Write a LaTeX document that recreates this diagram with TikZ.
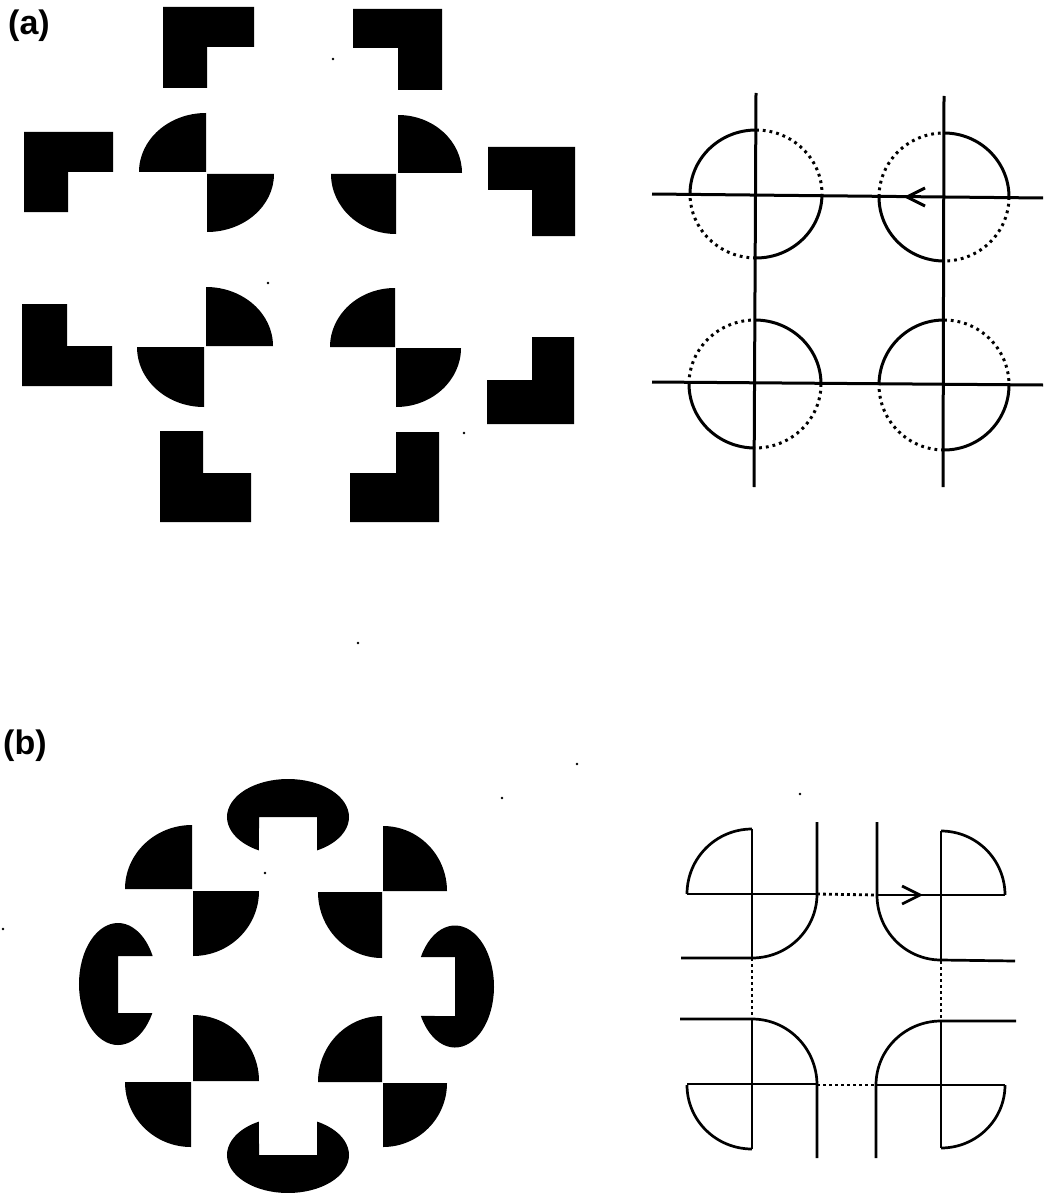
\documentclass[tikz,border=0pt]{standalone}
\usepackage{fontspec}
\setmainfont{Liberation Sans}
\begin{document}
\begin{tikzpicture}[x=1pt,y=-1pt,
  blk/.style={fill=black},
  solidln/.style={line width=3pt},
  dotln/.style={line width=3pt,dash pattern=on 2.8pt off 4pt},
  bln/.style={line width=2.7pt},
  bdot/.style={line width=2.8pt,dash pattern=on 2.8pt off 3.2pt},
  lbl/.style={anchor=base west,inner sep=0pt,font=\bfseries\fontsize{34}{40}\selectfont},
  speck/.style={fill=black}]
\useasboundingbox (0,0) rectangle (1044,1193);

% labels
\node[lbl] (la) at (8,35) {(a)};
\node[lbl] (lb) at (3,754) {(b)};

% ---------- (a) left: L-shapes ----------
\fill[blk] (163,7) -- (254,7) -- (254,47) -- (207,47) -- (207,88) -- (163,88) -- cycle;
\fill[blk] (353,9) -- (442,9) -- (442,90) -- (398,90) -- (398,48) -- (353,48) -- cycle;
\fill[blk] (24,132) -- (113,132) -- (113,172) -- (68,172) -- (68,212) -- (24,212) -- cycle;
\fill[blk] (488,147) -- (575,147) -- (575,236) -- (532,236) -- (532,190) -- (488,190) -- cycle;
\fill[blk] (22,304) -- (67,304) -- (67,346) -- (112,346) -- (112,386) -- (22,386) -- cycle;
\fill[blk] (532,337) -- (574,337) -- (574,424) -- (487,424) -- (487,380) -- (532,380) -- cycle;
\fill[blk] (160,431) -- (203,431) -- (203,473) -- (251,473) -- (251,522) -- (160,522) -- cycle;
\fill[blk] (396,432) -- (439,432) -- (439,522) -- (350,522) -- (350,473) -- (396,473) -- cycle;

% ---------- (a) left: quarter disks ----------
% quadrant angles (y flipped): UL 180-270, UR 270-360, LR 0-90, LL 90-180
\fill[blk] (206,172) -- ++(-67,0) arc[start angle=180,end angle=270,x radius=67,y radius=59] -- cycle;
\fill[blk] (207,174) -- ++(67,0) arc[start angle=0,end angle=90,x radius=67,y radius=58] -- cycle;
\fill[blk] (398,173) -- ++(0,-58) arc[start angle=270,end angle=360,x radius=64,y radius=58] -- cycle;
\fill[blk] (396,174) -- ++(0,60) arc[start angle=90,end angle=180,x radius=65,y radius=60] -- cycle;
\fill[blk] (206,346) -- ++(0,-59) arc[start angle=270,end angle=360,x radius=67,y radius=59] -- cycle;
\fill[blk] (204,347) -- ++(0,60) arc[start angle=90,end angle=180,x radius=67,y radius=60] -- cycle;
\fill[blk] (395,347) -- ++(-65,0) arc[start angle=180,end angle=270,x radius=65,y radius=59] -- cycle;
\fill[blk] (396,348) -- ++(65,0) arc[start angle=0,end angle=90,x radius=65,y radius=59] -- cycle;

% ---------- (a) right ----------
\coordinate (v1t) at (756,93);  \coordinate (v1b) at (754,487);
\coordinate (v2t) at (944,96);  \coordinate (v2b) at (943,487);
\coordinate (h1l) at (652,194); \coordinate (h1r) at (1043,198);
\coordinate (h2l) at (652,382); \coordinate (h2r) at (1043,385);
\draw[solidln] (v1t) -- (v1b);
\draw[solidln] (v2t) -- (v2b);
\draw[solidln] (h1l) -- (h1r);
\draw[solidln] (h2l) -- (h2r);
% circle 1
\draw[solidln] (756,194) ++(-66,0) arc[start angle=180,end angle=270,x radius=66,y radius=64];
\draw[solidln] (756,194) ++(66,0) arc[start angle=0,end angle=90,x radius=66,y radius=64];
\draw[dotln] (756,194) ++(0,-64) arc[start angle=270,end angle=360,x radius=66,y radius=64];
\draw[dotln] (756,194) ++(0,64) arc[start angle=90,end angle=180,x radius=66,y radius=64];
% circle 2
\draw[solidln] (944,197) ++(0,-64) arc[start angle=270,end angle=360,x radius=65,y radius=64];
\draw[solidln] (944,197) ++(0,64) arc[start angle=90,end angle=180,x radius=65,y radius=64];
\draw[dotln] (944,197) ++(-65,0) arc[start angle=180,end angle=270,x radius=65,y radius=64];
\draw[dotln] (944,197) ++(65,0) arc[start angle=0,end angle=90,x radius=65,y radius=64];
% circle 3
\draw[solidln] (755,384) ++(0,-64) arc[start angle=270,end angle=360,x radius=66,y radius=64];
\draw[solidln] (755,384) ++(0,64) arc[start angle=90,end angle=180,x radius=66,y radius=64];
\draw[dotln] (755,384) ++(-66,0) arc[start angle=180,end angle=270,x radius=66,y radius=64];
\draw[dotln] (755,384) ++(66,0) arc[start angle=0,end angle=90,x radius=66,y radius=64];
% circle 4
\draw[solidln] (944,385) ++(-65,0) arc[start angle=180,end angle=270,x radius=65,y radius=65];
\draw[solidln] (944,385) ++(65,0) arc[start angle=0,end angle=90,x radius=65,y radius=65];
\draw[dotln] (944,385) ++(0,-65) arc[start angle=270,end angle=360,x radius=65,y radius=65];
\draw[dotln] (944,385) ++(0,65) arc[start angle=90,end angle=180,x radius=65,y radius=65];
% arrow
\coordinate (aa) at (907,197);
\draw[solidln,line join=miter] (925,188) -- (aa) -- (925,206);

% ---------- (b) left: notched ellipses ----------
\fill[blk] ([shift={(118.4:61 and 38)}]288,817) arc[start angle=118.4,end angle=421.6,x radius=61,y radius=38] -- (317,817) -- (259,817) -- cycle;
\fill[blk] ([shift={(28.4:39 and 61)}]118,984) arc[start angle=28.4,end angle=332.7,x radius=39,y radius=61] -- (118,956) -- (118,1013) -- cycle;
\fill[blk] ([shift={(208.9:39 and 61)}]455,986.5) arc[start angle=208.9,end angle=511.1,x radius=39,y radius=61] -- (455,1016) -- (455,957) -- cycle;
\fill[blk] ([shift={(298.4:61 and 38)}]288,1155) arc[start angle=298.4,end angle=601.6,x radius=61,y radius=38] -- (259,1155) -- (317,1155) -- cycle;

% ---------- (b) left: quarter disks ----------
\fill[blk] (192,889) -- ++(-67,0) arc[start angle=180,end angle=270,x radius=67,y radius=64] -- cycle;
\fill[blk] (193,891) -- ++(66,0) arc[start angle=0,end angle=90,x radius=66,y radius=65] -- cycle;
\fill[blk] (383,891) -- ++(0,-65) arc[start angle=270,end angle=360,x radius=64,y radius=65] -- cycle;
\fill[blk] (382,892) -- ++(0,66) arc[start angle=90,end angle=180,x radius=64,y radius=66] -- cycle;
\fill[blk] (193,1081) -- ++(0,-66) arc[start angle=270,end angle=360,x radius=66,y radius=66] -- cycle;
\fill[blk] (191,1082) -- ++(0,65) arc[start angle=90,end angle=180,x radius=66,y radius=65] -- cycle;
\fill[blk] (382,1082) -- ++(-64,0) arc[start angle=180,end angle=270,x radius=64,y radius=66] -- cycle;
\fill[blk] (383,1083) -- ++(64,0) arc[start angle=0,end angle=90,x radius=64,y radius=64] -- cycle;

% ---------- (b) right ----------
% top-left group
\draw[bln] (687,894) arc[start angle=180,end angle=270,x radius=65,y radius=65];
\draw[bln] (752,829) -- (752,958);
\draw[bln] (687,894) -- (817,894);
\draw[bln] (817,822) -- (817,894) arc[start angle=0,end angle=90,x radius=65,y radius=64] -- (681,958);
\draw[bdot] (817,894) -- (877,895);
\draw[bdot] (752,958) -- (752,1019);
% top-right group
\draw[bln] (877,822) -- (877,895) arc[start angle=180,end angle=90,x radius=64,y radius=65] -- (1015,961);
\draw[bln] (877,895) -- (1005,895);
\draw[bln] (941,831) arc[start angle=270,end angle=360,x radius=64,y radius=64];
\draw[bln] (941,831) -- (941,960);
\draw[bdot] (941,961) -- (941,1021);
\coordinate (ba) at (920,895);
\draw[bln,line join=miter] (902,886) -- (ba) -- (902,904);
% bottom-left group
\draw[bln] (680,1019) -- (752,1019) arc[start angle=270,end angle=360,x radius=65,y radius=66] -- (817,1158);
\draw[bln] (687,1084) -- (817,1084);
\draw[bln] (687,1085) arc[start angle=180,end angle=90,x radius=65,y radius=64];
\draw[bln] (752,1019) -- (752,1149);
\draw[bdot] (817,1085) -- (876,1085);
% bottom-right group
\draw[bln] (1016,1021) -- (941,1021) arc[start angle=270,end angle=180,x radius=65,y radius=64] -- (876,1158);
\draw[bln] (876,1085) -- (1005,1085);
\draw[bln] (1005,1085) arc[start angle=0,end angle=90,x radius=64,y radius=63];
\draw[bln] (941,1021) -- (941,1148);

% specks
\foreach \p in {(333,59),(268,283),(464,433),(358,643),(577,764),(502,798),(265,873),(3,929),(800,794)}
  \fill[speck] \p circle[radius=1.4];
\end{tikzpicture}
\end{document}
